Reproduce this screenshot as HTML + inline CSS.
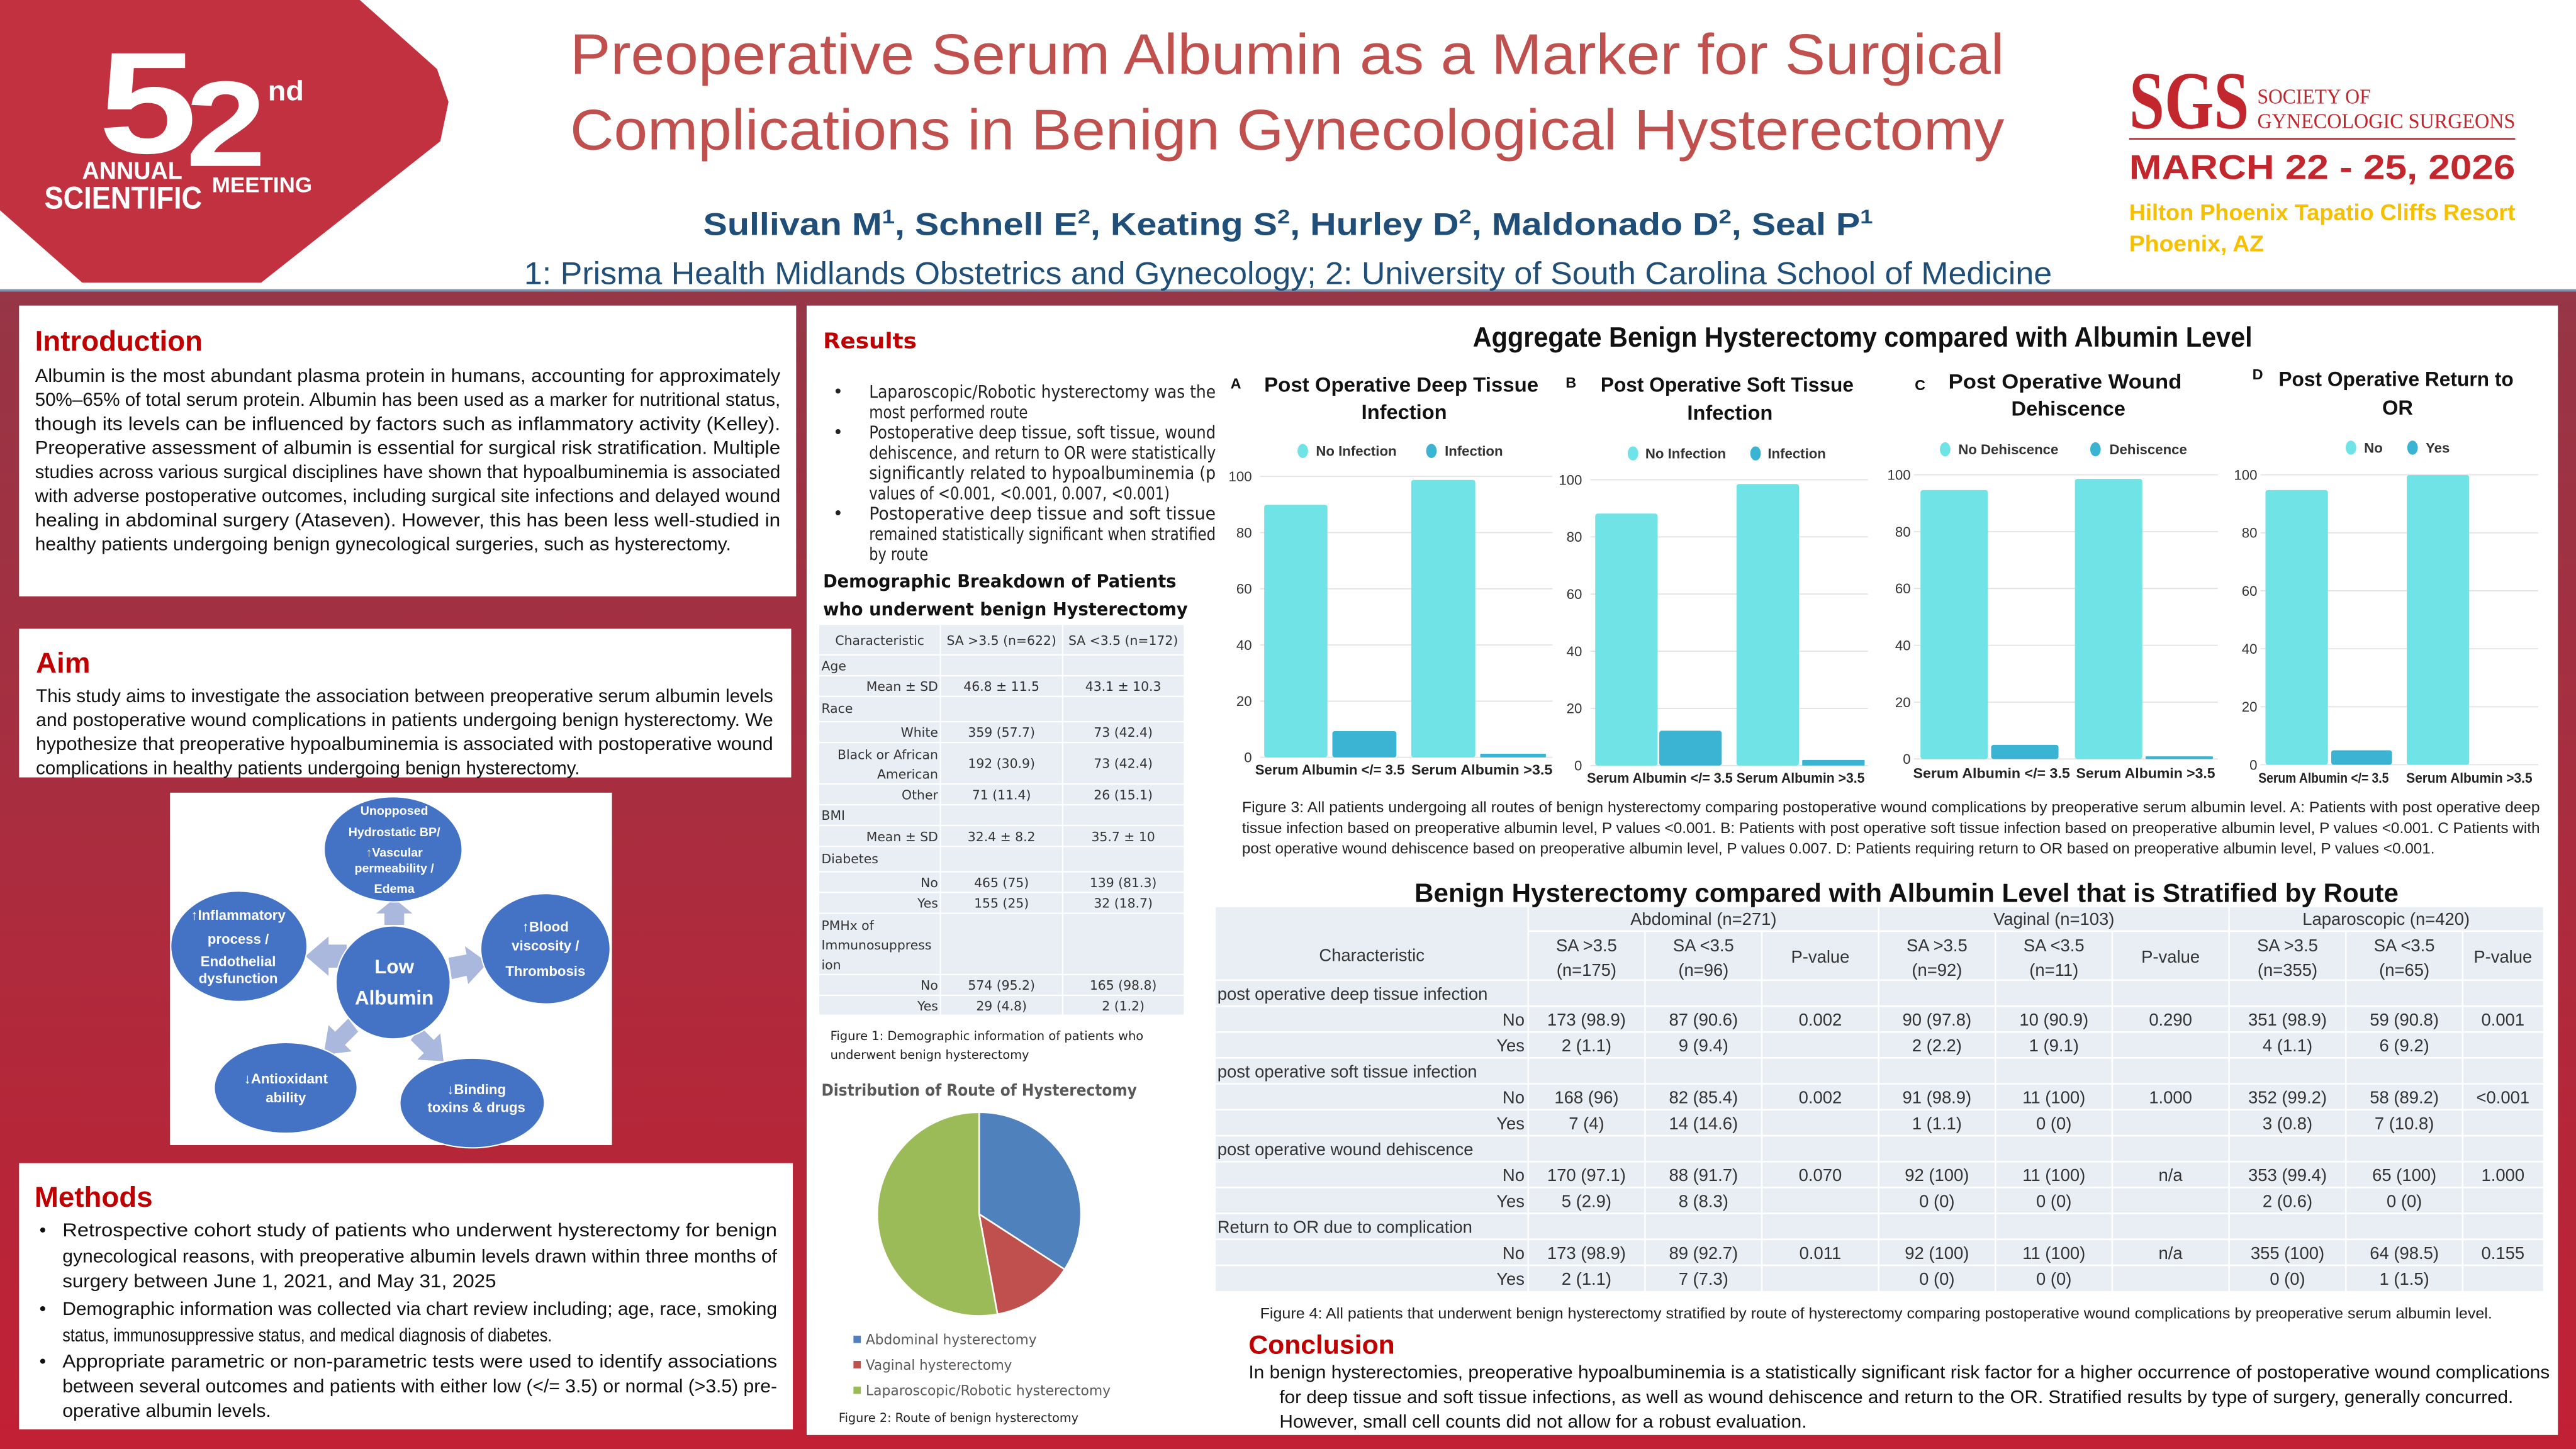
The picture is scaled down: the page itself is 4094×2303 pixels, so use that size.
<!DOCTYPE html>
<html><head><meta charset="utf-8">
<style>
html,body{margin:0;padding:0;background:#fff;}
svg{display:block;}
.n{font-family:"Liberation Sans Narrow","Liberation Sans",sans-serif;}
.a{font-family:"Liberation Sans",sans-serif;}
.g{font-family:"DejaVu Sans","Liberation Sans",sans-serif;}
.s{font-family:"Liberation Serif",serif;}
</style></head><body>
<svg width="4094" height="2303" viewBox="0 0 1568 882" preserveAspectRatio="none" xmlns="http://www.w3.org/2000/svg">
<defs>
<linearGradient id="bg" x1="0" y1="0" x2="0" y2="1">
<stop offset="0" stop-color="#8d3a4a"/><stop offset="0.5" stop-color="#a52f40"/><stop offset="1" stop-color="#c22034"/>
</linearGradient>
</defs>
<rect x="0" y="0" width="1568" height="882" fill="url(#bg)"/>
<rect x="0" y="0" width="1568" height="177" fill="#fff"/>
<rect x="0" y="176" width="1568" height="1.5" fill="#7f93ad"/>

<!-- logo -->
<polygon points="0,0 219,0 266,42 273,62 268,86 159,172 50,172 0,128" fill="#c1313f"/>
<g class="n" fill="#fff" font-weight="bold">
<text x="60" y="93" font-size="88" textLength="60" lengthAdjust="spacingAndGlyphs">5</text>
<text x="113" y="101" font-size="74" textLength="49" lengthAdjust="spacingAndGlyphs">2</text>
<text x="163" y="61" font-size="17" textLength="22" lengthAdjust="spacingAndGlyphs">nd</text>
<text x="50" y="109" font-size="15" textLength="61" lengthAdjust="spacingAndGlyphs">ANNUAL</text>
<text x="27" y="127" font-size="19" textLength="96" lengthAdjust="spacingAndGlyphs">SCIENTIFIC</text>
<text x="129" y="117" font-size="13" textLength="61" lengthAdjust="spacingAndGlyphs">MEETING</text>
</g>

<!-- title -->
<g class="n" fill="#c0504d">
<text x="347" y="45" font-size="35" textLength="873" lengthAdjust="spacingAndGlyphs">Preoperative Serum Albumin as a Marker for Surgical</text>
<text x="347" y="91" font-size="35" textLength="873" lengthAdjust="spacingAndGlyphs">Complications in Benign Gynecological Hysterectomy</text>
</g>
<text class="a" x="428" y="143" font-size="19" font-weight="bold" fill="#1f4e79" textLength="712" lengthAdjust="spacingAndGlyphs">Sullivan M<tspan font-size="12" dy="-7">1</tspan><tspan dy="7">, Schnell E</tspan><tspan font-size="12" dy="-7">2</tspan><tspan dy="7">, Keating S</tspan><tspan font-size="12" dy="-7">2</tspan><tspan dy="7">, Hurley D</tspan><tspan font-size="12" dy="-7">2</tspan><tspan dy="7">, Maldonado D</tspan><tspan font-size="12" dy="-7">2</tspan><tspan dy="7">, Seal P</tspan><tspan font-size="12" dy="-7">1</tspan></text>
<text class="a" x="319" y="173" font-size="19" fill="#1f4e79" textLength="930" lengthAdjust="spacingAndGlyphs">1: Prisma Health Midlands Obstetrics and Gynecology; 2: University of South Carolina School of Medicine</text>

<!-- SGS -->
<g fill="#c1272d">
<text class="s" x="1296" y="78" font-size="50" font-weight="bold" textLength="73" lengthAdjust="spacingAndGlyphs">SGS</text>
<text class="s" x="1374" y="63" font-size="13" textLength="69" lengthAdjust="spacingAndGlyphs">SOCIETY OF</text>
<text class="s" x="1374" y="78" font-size="13" textLength="157" lengthAdjust="spacingAndGlyphs">GYNECOLOGIC SURGEONS</text>
<rect x="1296" y="84" width="235" height="1" />
<text class="a" x="1296" y="109" font-size="21" font-weight="bold" textLength="235" lengthAdjust="spacingAndGlyphs">MARCH 22 - 25, 2026</text>
</g>
<g fill="#f6c000" class="a" font-weight="bold">
<text x="1296" y="134" font-size="14" textLength="235" lengthAdjust="spacingAndGlyphs">Hilton Phoenix Tapatio Cliffs Resort</text>
<text x="1296" y="153" font-size="14" textLength="82" lengthAdjust="spacingAndGlyphs">Phoenix, AZ</text>
</g>

<!-- panels -->
<rect x="11.6" y="186" width="473" height="177" fill="#fff"/>
<rect x="11.6" y="382.7" width="470" height="90.5" fill="#fff"/>
<rect x="103.5" y="482.5" width="269" height="214.5" fill="#fff"/>
<rect x="11.6" y="708" width="471" height="162" fill="#fff"/>
<rect x="491" y="186" width="1066" height="687.5" fill="#fff"/>

<!-- Introduction -->
<g class="n">
<text x="21.3" y="213.5" font-size="17.5" font-weight="bold" fill="#c00000">Introduction</text>
<g font-size="11.5" fill="#111">
<text x="21.3" y="232.4" textLength="453.7" lengthAdjust="spacingAndGlyphs">Albumin is the most abundant plasma protein in humans, accounting for approximately</text>
<text x="21.3" y="247" textLength="453.7" lengthAdjust="spacingAndGlyphs">50%–65% of total serum protein. Albumin has been used as a marker for nutritional status,</text>
<text x="21.3" y="261.7" textLength="453.7" lengthAdjust="spacingAndGlyphs">though its levels can be influenced by factors such as inflammatory activity (Kelley).</text>
<text x="21.3" y="276.3" textLength="453.7" lengthAdjust="spacingAndGlyphs">Preoperative assessment of albumin is essential for surgical risk stratification. Multiple</text>
<text x="21.3" y="291" textLength="453.7" lengthAdjust="spacingAndGlyphs">studies across various surgical disciplines have shown that hypoalbuminemia is associated</text>
<text x="21.3" y="305.7" textLength="453.7" lengthAdjust="spacingAndGlyphs">with adverse postoperative outcomes, including surgical site infections and delayed wound</text>
<text x="21.3" y="320.3" textLength="453.7" lengthAdjust="spacingAndGlyphs">healing in abdominal surgery (Ataseven). However, this has been less well-studied in</text>
<text x="21.3" y="335" textLength="423.7" lengthAdjust="spacingAndGlyphs">healthy patients undergoing benign gynecological surgeries, such as hysterectomy.</text>
</g>
<!-- Aim -->
<text x="21.9" y="409.5" font-size="17.5" font-weight="bold" fill="#c00000">Aim</text>
<g font-size="11.5" fill="#111">
<text x="21.9" y="427.5" textLength="448.7" lengthAdjust="spacingAndGlyphs">This study aims to investigate the association between preoperative serum albumin levels</text>
<text x="21.9" y="442" textLength="448.7" lengthAdjust="spacingAndGlyphs">and postoperative wound complications in patients undergoing benign hysterectomy. We</text>
<text x="21.9" y="456.6" textLength="448.7" lengthAdjust="spacingAndGlyphs">hypothesize that preoperative hypoalbuminemia is associated with postoperative wound</text>
<text x="21.9" y="471.2" textLength="331" lengthAdjust="spacingAndGlyphs">complications in healthy patients undergoing benign hysterectomy.</text>
</g>
<!-- Methods -->
<text x="21" y="734.5" font-size="17.5" font-weight="bold" fill="#c00000">Methods</text>
<g font-size="11.5" fill="#111">
<text x="24" y="752.5">•</text><text x="24" y="800.5">•</text><text x="24" y="832.5">•</text>
<text x="38" y="752.5" textLength="435" lengthAdjust="spacingAndGlyphs">Retrospective cohort study of patients who underwent hysterectomy for benign</text>
<text x="38" y="768.5" textLength="435" lengthAdjust="spacingAndGlyphs">gynecological reasons, with preoperative albumin levels drawn within three months of</text>
<text x="38" y="783.5" textLength="264" lengthAdjust="spacingAndGlyphs">surgery between June 1, 2021, and May 31, 2025</text>
<text x="38" y="800.5" textLength="435" lengthAdjust="spacingAndGlyphs">Demographic information was collected via chart review including; age, race, smoking</text>
<text x="38" y="816.5" textLength="298" lengthAdjust="spacingAndGlyphs">status, immunosuppressive status, and medical diagnosis of diabetes.</text>
<text x="38" y="832.5" textLength="435" lengthAdjust="spacingAndGlyphs">Appropriate parametric or non-parametric tests were used to identify associations</text>
<text x="38" y="847.5" textLength="435" lengthAdjust="spacingAndGlyphs">between several outcomes and patients with either low (&lt;/= 3.5) or normal (&gt;3.5) pre-</text>
<text x="38" y="862.5" textLength="127" lengthAdjust="spacingAndGlyphs">operative albumin levels.</text>
</g>
</g>

<!-- Diagram -->
<g fill="#a9b8dc">
<polygon points="234,563 234,556 229,556 240,547 251,556 246,556 246,563"/>
<polygon points="211,575 200,575 200,570 186,582 200,594 200,589 211,589"/>
<polygon points="273,583 284,581 283,576 297,586 285,599 284,594 275,596"/>
<polygon points="212,620 204,628 200,624 197,642 214,640 210,636 218,628"/>
<polygon points="256,625 264,633 268,629 270,646 254,645 258,641 250,633"/>
</g>
<g fill="#4472c4" stroke="#fff" stroke-width="0.8">
<ellipse cx="239.3" cy="517" rx="42" ry="32"/>
<ellipse cx="145.4" cy="576" rx="41.5" ry="33.6"/>
<ellipse cx="332" cy="577.5" rx="39.4" ry="33.6"/>
<ellipse cx="239.3" cy="598" rx="34.8" ry="34.4"/>
<ellipse cx="173.9" cy="662.2" rx="43.5" ry="27.6"/>
<ellipse cx="287.4" cy="671.4" rx="44" ry="27.3"/>
</g>
<g class="n" fill="#fff" font-weight="bold" text-anchor="middle">
<g font-size="7.5">
<text x="240" y="496">Unopposed</text>
<text x="240" y="509">Hydrostatic  BP/</text>
<text x="240" y="521.5">↑Vascular</text>
<text x="240" y="531">permeability /</text>
<text x="240" y="543.5">Edema</text>
</g>
<g font-size="8.5">
<text x="145" y="560">↑Inflammatory</text>
<text x="145" y="574.5">process /</text>
<text x="145" y="588">Endothelial</text>
<text x="145" y="598.5">dysfunction</text>
<text x="332" y="567">↑Blood</text>
<text x="332" y="578.5">viscosity /</text>
<text x="332" y="594">Thrombosis</text>
<text x="174" y="659.5">↓Antioxidant</text>
<text x="174" y="671">ability</text>
<text x="290" y="666">↓Binding</text>
<text x="290" y="677">toxins &amp; drugs</text>
</g>
<text x="240" y="592.5" font-size="12">Low</text>
<text x="240" y="611.5" font-size="12">Albumin</text>
</g>

<!-- Results column -->
<text class="g" x="501" y="212" font-size="13" font-weight="bold" fill="#c00000" textLength="57" lengthAdjust="spacingAndGlyphs">Results</text>
<g class="g" font-size="10.5" fill="#222">
<text x="507" y="242">•</text><text x="507" y="266.8">•</text><text x="507" y="316.2">•</text>
<text x="529" y="242" textLength="211" lengthAdjust="spacingAndGlyphs">Laparoscopic/Robotic hysterectomy was the</text>
<text x="529" y="254.5" textLength="96.6" lengthAdjust="spacingAndGlyphs">most performed route</text>
<text x="529" y="266.8" textLength="211" lengthAdjust="spacingAndGlyphs">Postoperative deep tissue, soft tissue, wound</text>
<text x="529" y="279.2" textLength="211" lengthAdjust="spacingAndGlyphs">dehiscence, and return to OR were statistically</text>
<text x="529" y="291.5" textLength="211" lengthAdjust="spacingAndGlyphs">significantly related to hypoalbuminemia (p</text>
<text x="529" y="303.9" textLength="183" lengthAdjust="spacingAndGlyphs">values of &lt;0.001, &lt;0.001, 0.007, &lt;0.001)</text>
<text x="529" y="316.2" textLength="211" lengthAdjust="spacingAndGlyphs">Postoperative deep tissue and soft tissue</text>
<text x="529" y="328.6" textLength="211" lengthAdjust="spacingAndGlyphs">remained statistically significant when stratified</text>
<text x="529" y="340.9" textLength="36" lengthAdjust="spacingAndGlyphs">by route</text>
</g>
<g class="g" font-size="11" font-weight="bold" fill="#111">
<text x="501" y="357.5" textLength="215" lengthAdjust="spacingAndGlyphs">Demographic Breakdown of Patients</text>
<text x="501" y="374.5" textLength="222" lengthAdjust="spacingAndGlyphs">who underwent benign Hysterectomy</text>
</g>
<!-- demographic table -->
<rect x="498.7" y="380.4" width="221.8" height="237.2" fill="#e9edf4"/>
<g stroke="#fff" stroke-width="0.8">
<line x1="572.4" y1="380.4" x2="572.4" y2="617.6"/><line x1="646.8" y1="380.4" x2="646.8" y2="617.6"/>
<line x1="498.7" y1="398.6" x2="720.5" y2="398.6"/><line x1="498.7" y1="411.3" x2="720.5" y2="411.3"/>
<line x1="498.7" y1="423.9" x2="720.5" y2="423.9"/><line x1="498.7" y1="439.3" x2="720.5" y2="439.3"/>
<line x1="498.7" y1="452" x2="720.5" y2="452"/><line x1="498.7" y1="477.2" x2="720.5" y2="477.2"/>
<line x1="498.7" y1="489.9" x2="720.5" y2="489.9"/><line x1="498.7" y1="502.5" x2="720.5" y2="502.5"/>
<line x1="498.7" y1="515.2" x2="720.5" y2="515.2"/><line x1="498.7" y1="530.6" x2="720.5" y2="530.6"/>
<line x1="498.7" y1="543.2" x2="720.5" y2="543.2"/><line x1="498.7" y1="555.9" x2="720.5" y2="555.9"/>
<line x1="498.7" y1="593.2" x2="720.5" y2="593.2"/><line x1="498.7" y1="605.9" x2="720.5" y2="605.9"/>
</g>
<g class="g" font-size="7.8" fill="#333">
<g text-anchor="middle">
<text x="535.5" y="392.5">Characteristic</text><text x="609.6" y="392.5">SA &gt;3.5 (n=622)</text><text x="683.7" y="392.5">SA &lt;3.5 (n=172)</text>
<text x="609.6" y="420.5">46.8 ± 11.5</text><text x="683.7" y="420.5">43.1 ± 10.3</text>
<text x="609.6" y="448.5">359 (57.7)</text><text x="683.7" y="448.5">73 (42.4)</text>
<text x="609.6" y="467.5">192 (30.9)</text><text x="683.7" y="467.5">73 (42.4)</text>
<text x="609.6" y="486.5">71 (11.4)</text><text x="683.7" y="486.5">26 (15.1)</text>
<text x="609.6" y="512">32.4 ± 8.2</text><text x="683.7" y="512">35.7 ± 10</text>
<text x="609.6" y="540">465 (75)</text><text x="683.7" y="540">139 (81.3)</text>
<text x="609.6" y="552.5">155 (25)</text><text x="683.7" y="552.5">32 (18.7)</text>
<text x="609.6" y="602.5">574 (95.2)</text><text x="683.7" y="602.5">165 (98.8)</text>
<text x="609.6" y="615">29 (4.8)</text><text x="683.7" y="615">2 (1.2)</text>
</g>
<text x="500" y="408">Age</text>
<text x="500" y="434">Race</text>
<text x="500" y="499">BMI</text>
<text x="500" y="525.5">Diabetes</text>
<text x="500" y="566">PMHx of</text>
<text x="500" y="578">Immunosuppress</text>
<text x="500" y="590">ion</text>
<g text-anchor="end">
<text x="571" y="420.5">Mean ± SD</text>
<text x="571" y="448.5">White</text>
<text x="571" y="462">Black or African</text>
<text x="571" y="474">American</text>
<text x="571" y="486.5">Other</text>
<text x="571" y="512">Mean ± SD</text>
<text x="571" y="540">No</text>
<text x="571" y="552.5">Yes</text>
<text x="571" y="602.5">No</text>
<text x="571" y="615">Yes</text>
</g>
</g>
<g class="g" font-size="7.5" fill="#222">
<text x="505.4" y="633" textLength="190.6" lengthAdjust="spacingAndGlyphs">Figure 1: Demographic information of patients who</text>
<text x="505.4" y="644.5" textLength="121" lengthAdjust="spacingAndGlyphs">underwent benign hysterectomy</text>
</g>
<text class="g" x="500" y="667" font-size="10" font-weight="bold" fill="#595959" textLength="192" lengthAdjust="spacingAndGlyphs">Distribution of Route of Hysterectomy</text>
<g stroke="#fff" stroke-width="1">
<path d="M596,739 L596,677 A62,62 0 0 1 648.05,772.68 Z" fill="#4f81bd"/>
<path d="M596,739 L648.05,772.68 A62,62 0 0 1 607.19,799.98 Z" fill="#c0504d"/>
<path d="M596,739 L607.19,799.98 A62,62 0 1 1 596,677 Z" fill="#9bbb59"/>
</g>
<rect x="519.5" y="813" width="4.5" height="4.5" fill="#4f81bd"/>
<rect x="519.5" y="828.4" width="4.5" height="4.5" fill="#c0504d"/>
<rect x="519.5" y="844" width="4.5" height="4.5" fill="#9bbb59"/>
<g class="g" font-size="8.5" fill="#595959">
<text x="527" y="818.3" textLength="104" lengthAdjust="spacingAndGlyphs">Abdominal hysterectomy</text>
<text x="527" y="833.7" textLength="89" lengthAdjust="spacingAndGlyphs">Vaginal hysterectomy</text>
<text x="527" y="849.2" textLength="149" lengthAdjust="spacingAndGlyphs">Laparoscopic/Robotic hysterectomy</text>
</g>
<text class="g" x="510.5" y="865.5" font-size="7.5" fill="#222" textLength="146" lengthAdjust="spacingAndGlyphs">Figure 2: Route of benign hysterectomy</text>

<!-- Aggregate charts -->
<text class="n" x="896.5" y="211" font-size="17" font-weight="bold" fill="#111" textLength="474.5" lengthAdjust="spacingAndGlyphs">Aggregate Benign Hysterectomy compared with Albumin Level</text>
<g class="n" font-weight="bold" fill="#111">
<text x="749" y="236.5" font-size="9">A</text>
<text x="953" y="236" font-size="9">B</text>
<text x="1165.5" y="237.5" font-size="9">C</text>
<text x="1371" y="231" font-size="9">D</text>
<g font-size="12.5">
<text x="769.5" y="238.5" textLength="167" lengthAdjust="spacingAndGlyphs">Post Operative Deep Tissue</text>
<text x="854.7" y="255" text-anchor="middle">Infection</text>
<text x="974.3" y="238.5" textLength="154" lengthAdjust="spacingAndGlyphs">Post Operative Soft Tissue</text>
<text x="1053" y="255.5" text-anchor="middle">Infection</text>
<text x="1186" y="236.5" textLength="142" lengthAdjust="spacingAndGlyphs">Post Operative Wound</text>
<text x="1259" y="253" text-anchor="middle">Dehiscence</text>
<text x="1387" y="235" textLength="143" lengthAdjust="spacingAndGlyphs">Post Operative Return to</text>
<text x="1459.4" y="252.4" text-anchor="middle">OR</text>
</g>
</g>
<!-- legends -->
<g>
<ellipse cx="793" cy="274.5" rx="3.2" ry="4.3" fill="#6fe3e6"/><ellipse cx="871.3" cy="274.5" rx="3.2" ry="4.3" fill="#3bb3d3"/>
<ellipse cx="994" cy="276" rx="3.2" ry="4.3" fill="#6fe3e6"/><ellipse cx="1068.6" cy="276" rx="3.2" ry="4.3" fill="#3bb3d3"/>
<ellipse cx="1184" cy="273.5" rx="3.2" ry="4.3" fill="#6fe3e6"/><ellipse cx="1275.5" cy="273.5" rx="3.2" ry="4.3" fill="#3bb3d3"/>
<ellipse cx="1431" cy="272.5" rx="3.2" ry="4.3" fill="#6fe3e6"/><ellipse cx="1468.5" cy="272.5" rx="3.2" ry="4.3" fill="#3bb3d3"/>
</g>
<g class="n" font-size="8.5" font-weight="bold" fill="#333">
<text x="801" y="277.5">No Infection</text><text x="879.4" y="277.5">Infection</text>
<text x="1001.5" y="279">No Infection</text><text x="1076" y="279">Infection</text>
<text x="1192" y="276.5">No Dehiscence</text><text x="1284" y="276.5">Dehiscence</text>
<text x="1439" y="275.5">No</text><text x="1476.5" y="275.5">Yes</text>
</g>
<!-- gridlines -->
<g stroke="#e3e3e3" stroke-width="0.7">
<line x1="767" x2="945" y1="461" y2="461"/><line x1="767" x2="945" y1="426.8" y2="426.8"/><line x1="767" x2="945" y1="392.6" y2="392.6"/><line x1="767" x2="945" y1="358.4" y2="358.4"/><line x1="767" x2="945" y1="324.2" y2="324.2"/><line x1="767" x2="945" y1="290" y2="290"/>
<line x1="968" x2="1137" y1="466" y2="466"/><line x1="968" x2="1137" y1="431.2" y2="431.2"/><line x1="968" x2="1137" y1="396.4" y2="396.4"/><line x1="968" x2="1137" y1="361.6" y2="361.6"/><line x1="968" x2="1137" y1="326.8" y2="326.8"/><line x1="968" x2="1137" y1="292" y2="292"/>
<line x1="1165" x2="1350" y1="462" y2="462"/><line x1="1165" x2="1350" y1="427.4" y2="427.4"/><line x1="1165" x2="1350" y1="392.8" y2="392.8"/><line x1="1165" x2="1350" y1="358.2" y2="358.2"/><line x1="1165" x2="1350" y1="323.6" y2="323.6"/><line x1="1165" x2="1350" y1="289" y2="289"/>
<line x1="1376" x2="1545" y1="465.5" y2="465.5"/><line x1="1376" x2="1545" y1="430.2" y2="430.2"/><line x1="1376" x2="1545" y1="394.9" y2="394.9"/><line x1="1376" x2="1545" y1="359.6" y2="359.6"/><line x1="1376" x2="1545" y1="324.3" y2="324.3"/><line x1="1376" x2="1545" y1="289" y2="289"/>
</g>
<g class="n" font-size="8.5" fill="#333" text-anchor="end">
<text x="762" y="464">0</text><text x="762" y="429.8">20</text><text x="762" y="395.6">40</text><text x="762" y="361.4">60</text><text x="762" y="327.2">80</text><text x="762" y="293">100</text>
<text x="963" y="469">0</text><text x="963" y="434.2">20</text><text x="963" y="399.4">40</text><text x="963" y="364.6">60</text><text x="963" y="329.8">80</text><text x="963" y="295">100</text>
<text x="1163" y="465">0</text><text x="1163" y="430.4">20</text><text x="1163" y="395.8">40</text><text x="1163" y="361.2">60</text><text x="1163" y="326.6">80</text><text x="1163" y="292">100</text>
<text x="1374" y="468.5">0</text><text x="1374" y="433.2">20</text><text x="1374" y="397.9">40</text><text x="1374" y="362.6">60</text><text x="1374" y="327.3">80</text><text x="1374" y="292">100</text>
</g>
<!-- bars -->
<g fill="#6fe3e6">
<rect x="769.5" y="307.3" width="38.5" height="153.7" rx="1.5"/>
<rect x="859" y="292.1" width="39" height="168.9" rx="1.5"/>
<rect x="971" y="312.6" width="38" height="153.4" rx="1.5"/>
<rect x="1057" y="294.6" width="38" height="171.4" rx="1.5"/>
<rect x="1169" y="298.3" width="41" height="163.7" rx="1.5"/>
<rect x="1263" y="291.5" width="41" height="170.5" rx="1.5"/>
<rect x="1379" y="298.3" width="38" height="167.2" rx="1.5"/>
<rect x="1465" y="289.2" width="38" height="176.3" rx="1.5"/>
</g>
<g fill="#3bb3d3">
<rect x="811" y="445" width="39" height="16" rx="1.5"/>
<rect x="901" y="458.8" width="40" height="2.2" rx="0.5"/>
<rect x="1010" y="444.8" width="38" height="21.2" rx="1.5"/>
<rect x="1097" y="462.6" width="38" height="3.4" rx="0.5"/>
<rect x="1212" y="453.4" width="41" height="8.6" rx="1.5"/>
<rect x="1306" y="460.4" width="41" height="1.6" rx="0.5"/>
<rect x="1419" y="456.7" width="37" height="8.8" rx="1.5"/>
</g>
<g class="n" font-size="8.5" font-weight="bold" fill="#222">
<text x="764" y="471.5" textLength="91" lengthAdjust="spacingAndGlyphs">Serum Albumin &lt;/= 3.5</text>
<text x="859" y="471.5" textLength="86" lengthAdjust="spacingAndGlyphs">Serum Albumin &gt;3.5</text>
<text x="966" y="476.5" textLength="88.7" lengthAdjust="spacingAndGlyphs">Serum Albumin &lt;/= 3.5</text>
<text x="1057" y="476.5" textLength="78" lengthAdjust="spacingAndGlyphs">Serum Albumin &gt;3.5</text>
<text x="1164.5" y="473.5" textLength="95.5" lengthAdjust="spacingAndGlyphs">Serum Albumin &lt;/= 3.5</text>
<text x="1263.7" y="473.5" textLength="84.7" lengthAdjust="spacingAndGlyphs">Serum Albumin &gt;3.5</text>
<text x="1374.7" y="476.5" textLength="79.3" lengthAdjust="spacingAndGlyphs">Serum Albumin &lt;/= 3.5</text>
<text x="1464.7" y="476.5" textLength="76.7" lengthAdjust="spacingAndGlyphs">Serum Albumin &gt;3.5</text>
</g>
<g class="n" font-size="9.2" fill="#222">
<text x="756" y="494.5" textLength="790" lengthAdjust="spacingAndGlyphs">Figure 3: All patients undergoing all routes of benign hysterectomy comparing postoperative wound complications by preoperative serum albumin level. A: Patients with post operative deep</text>
<text x="756" y="507" textLength="790" lengthAdjust="spacingAndGlyphs">tissue infection based on preoperative albumin level, P values &lt;0.001. B: Patients with post operative soft tissue infection based on preoperative albumin level, P values &lt;0.001. C Patients with</text>
<text x="756" y="519.5" textLength="726" lengthAdjust="spacingAndGlyphs">post operative wound dehiscence based on preoperative albumin level, P values 0.007. D: Patients requiring return to OR based on preoperative albumin level, P values &lt;0.001.</text>
</g>

<!-- Stratified table -->
<text class="n" x="861" y="549" font-size="16" font-weight="bold" fill="#111" textLength="599" lengthAdjust="spacingAndGlyphs">Benign Hysterectomy compared with Albumin Level that is Stratified by Route</text>
<rect x="740" y="552.2" width="808" height="233.7" fill="#e9edf4"/>
<g stroke="#fff" stroke-width="1">
<line x1="930.2" y1="552.2" x2="930.2" y2="785.9"/><line x1="1143.5" y1="552.2" x2="1143.5" y2="785.9"/><line x1="1356.8" y1="552.2" x2="1356.8" y2="785.9"/>
<line x1="1001.3" y1="566.8" x2="1001.3" y2="785.9"/><line x1="1072.4" y1="566.8" x2="1072.4" y2="785.9"/>
<line x1="1214.6" y1="566.8" x2="1214.6" y2="785.9"/><line x1="1285.7" y1="566.8" x2="1285.7" y2="785.9"/>
<line x1="1427.9" y1="566.8" x2="1427.9" y2="785.9"/><line x1="1499" y1="566.8" x2="1499" y2="785.9"/>
<line x1="930.2" y1="566.8" x2="1548" y2="566.8"/>
<line x1="740" y1="596.6" x2="1548" y2="596.6"/><line x1="740" y1="612.4" x2="1548" y2="612.4"/><line x1="740" y1="628.2" x2="1548" y2="628.2"/><line x1="740" y1="643.9" x2="1548" y2="643.9"/><line x1="740" y1="659.7" x2="1548" y2="659.7"/><line x1="740" y1="675.5" x2="1548" y2="675.5"/><line x1="740" y1="691.3" x2="1548" y2="691.3"/><line x1="740" y1="707.1" x2="1548" y2="707.1"/><line x1="740" y1="722.8" x2="1548" y2="722.8"/><line x1="740" y1="738.6" x2="1548" y2="738.6"/><line x1="740" y1="754.4" x2="1548" y2="754.4"/><line x1="740" y1="770.2" x2="1548" y2="770.2"/>
</g>
<g class="n" font-size="10.5" fill="#333">
<g text-anchor="middle">
<text x="835" y="585">Characteristic</text>
<text x="1036.9" y="563">Abdominal (n=271)</text><text x="1250.2" y="563">Vaginal (n=103)</text><text x="1452.4" y="563">Laparoscopic (n=420)</text>
<text x="965.7" y="579">SA &gt;3.5</text><text x="965.7" y="594">(n=175)</text>
<text x="1036.9" y="579">SA &lt;3.5</text><text x="1036.9" y="594">(n=96)</text>
<text x="1108" y="586">P-value</text>
<text x="1179" y="579">SA &gt;3.5</text><text x="1179" y="594">(n=92)</text>
<text x="1250.2" y="579">SA &lt;3.5</text><text x="1250.2" y="594">(n=11)</text>
<text x="1321.2" y="586">P-value</text>
<text x="1392.4" y="579">SA &gt;3.5</text><text x="1392.4" y="594">(n=355)</text>
<text x="1463.5" y="579">SA &lt;3.5</text><text x="1463.5" y="594">(n=65)</text>
<text x="1523.5" y="586">P-value</text>
</g>
<text x="741" y="608.5">post operative deep tissue infection</text>
<text x="741" y="655.8">post operative soft tissue infection</text>
<text x="741" y="703.2">post operative wound dehiscence</text>
<text x="741" y="750.5">Return to OR due to complication</text>
<g text-anchor="end">
<text x="928" y="624.3">No</text><text x="928" y="640">Yes</text>
<text x="928" y="671.6">No</text><text x="928" y="687.4">Yes</text>
<text x="928" y="718.9">No</text><text x="928" y="734.7">Yes</text>
<text x="928" y="766.3">No</text><text x="928" y="782">Yes</text>
</g>
<g text-anchor="middle">
<text y="624.3"><tspan x="965.7">173 (98.9)</tspan><tspan x="1036.9">87 (90.6)</tspan><tspan x="1108">0.002</tspan><tspan x="1179">90 (97.8)</tspan><tspan x="1250.2">10 (90.9)</tspan><tspan x="1321.2">0.290</tspan><tspan x="1392.4">351 (98.9)</tspan><tspan x="1463.5">59 (90.8)</tspan><tspan x="1523.5">0.001</tspan></text>
<text y="640"><tspan x="965.7">2 (1.1)</tspan><tspan x="1036.9">9 (9.4)</tspan><tspan x="1179">2 (2.2)</tspan><tspan x="1250.2">1 (9.1)</tspan><tspan x="1392.4">4 (1.1)</tspan><tspan x="1463.5">6 (9.2)</tspan></text>
<text y="671.6"><tspan x="965.7">168 (96)</tspan><tspan x="1036.9">82 (85.4)</tspan><tspan x="1108">0.002</tspan><tspan x="1179">91 (98.9)</tspan><tspan x="1250.2">11 (100)</tspan><tspan x="1321.2">1.000</tspan><tspan x="1392.4">352 (99.2)</tspan><tspan x="1463.5">58 (89.2)</tspan><tspan x="1523.5">&lt;0.001</tspan></text>
<text y="687.4"><tspan x="965.7">7 (4)</tspan><tspan x="1036.9">14 (14.6)</tspan><tspan x="1179">1 (1.1)</tspan><tspan x="1250.2">0 (0)</tspan><tspan x="1392.4">3 (0.8)</tspan><tspan x="1463.5">7 (10.8)</tspan></text>
<text y="718.9"><tspan x="965.7">170 (97.1)</tspan><tspan x="1036.9">88 (91.7)</tspan><tspan x="1108">0.070</tspan><tspan x="1179">92 (100)</tspan><tspan x="1250.2">11 (100)</tspan><tspan x="1321.2">n/a</tspan><tspan x="1392.4">353 (99.4)</tspan><tspan x="1463.5">65 (100)</tspan><tspan x="1523.5">1.000</tspan></text>
<text y="734.7"><tspan x="965.7">5 (2.9)</tspan><tspan x="1036.9">8 (8.3)</tspan><tspan x="1179">0 (0)</tspan><tspan x="1250.2">0 (0)</tspan><tspan x="1392.4">2 (0.6)</tspan><tspan x="1463.5">0 (0)</tspan></text>
<text y="766.3"><tspan x="965.7">173 (98.9)</tspan><tspan x="1036.9">89 (92.7)</tspan><tspan x="1108">0.011</tspan><tspan x="1179">92 (100)</tspan><tspan x="1250.2">11 (100)</tspan><tspan x="1321.2">n/a</tspan><tspan x="1392.4">355 (100)</tspan><tspan x="1463.5">64 (98.5)</tspan><tspan x="1523.5">0.155</tspan></text>
<text y="782"><tspan x="965.7">2 (1.1)</tspan><tspan x="1036.9">7 (7.3)</tspan><tspan x="1179">0 (0)</tspan><tspan x="1250.2">0 (0)</tspan><tspan x="1392.4">0 (0)</tspan><tspan x="1463.5">1 (1.5)</tspan></text>
</g>
</g>
<text class="n" x="767" y="802.5" font-size="9.2" fill="#222" textLength="750" lengthAdjust="spacingAndGlyphs">Figure 4: All patients that underwent benign hysterectomy stratified by route of hysterectomy comparing postoperative wound complications by preoperative serum albumin level.</text>
<text class="n" x="760" y="824" font-size="16" font-weight="bold" fill="#c00000" textLength="89" lengthAdjust="spacingAndGlyphs">Conclusion</text>
<g class="n" font-size="11" fill="#111">
<text x="760" y="839" textLength="792" lengthAdjust="spacingAndGlyphs">In benign hysterectomies, preoperative hypoalbuminemia is a statistically significant risk factor for a higher occurrence of postoperative wound complications</text>
<text x="778.8" y="854" textLength="751" lengthAdjust="spacingAndGlyphs">for deep tissue and soft tissue infections, as well as wound dehiscence and return to the OR. Stratified results by type of surgery, generally concurred.</text>
<text x="778.8" y="869" textLength="321" lengthAdjust="spacingAndGlyphs">However, small cell counts did not allow for a robust evaluation.</text>
</g>
</svg>
</body></html>
